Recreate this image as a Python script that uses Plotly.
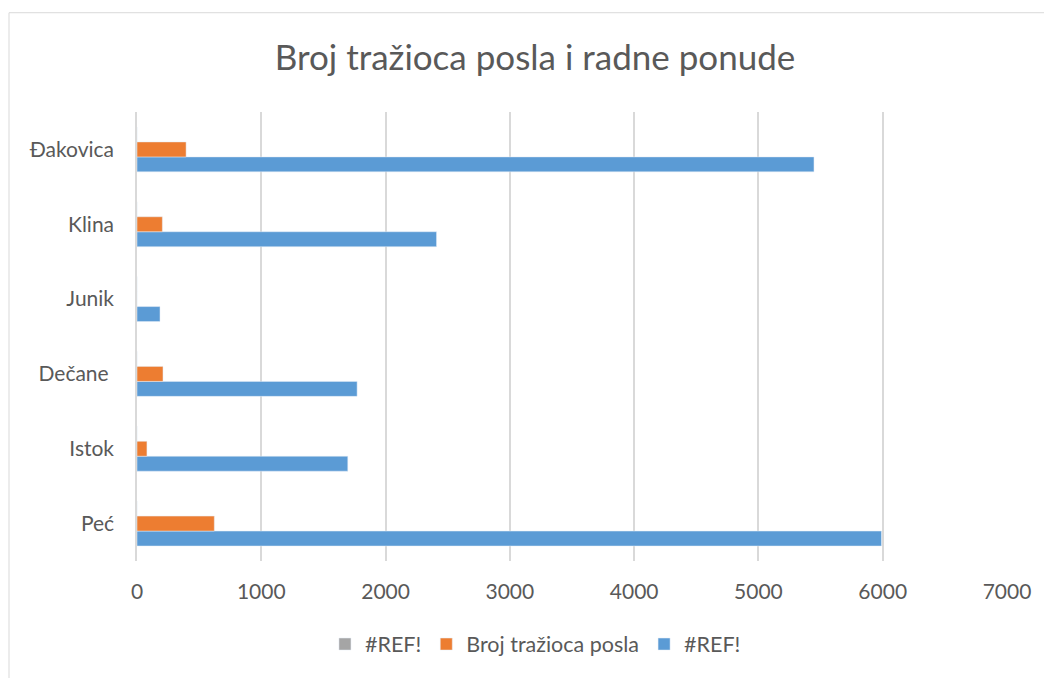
import plotly.graph_objects as go

gradovi = ["Peć", "Istok", "Dečane ", "Junik", "Klina", "Đakovica"]
ref_siva = [0, 0, 0, 0, 0, 0]
trazioci = [622, 80, 209, 0, 204, 395]
ref_plava = [5990, 1696, 1771, 185, 2410, 5447]

font = "Lato, 'Open Sans', sans-serif"
siva_tekst = "#595959"

fig = go.Figure()
# plotly stavlja prvi trace na dno grupe
fig.add_trace(go.Bar(y=gradovi, x=ref_plava, name="#REF!", orientation="h",
                     marker=dict(color="#5B9BD5")))
fig.add_trace(go.Bar(y=gradovi, x=trazioci, name="Broj tražioca posla", orientation="h",
                     marker=dict(color="#ED7D31")))
fig.add_trace(go.Bar(y=gradovi, x=ref_siva, name="#REF!", orientation="h",
                     marker=dict(color="#A5A5A5")))

# stranica ima 8px margine na body, pa je figura manja i pomaknuta
fig.update_layout(
    width=1044, height=670,
    margin=dict(l=129, r=45, t=103.5, b=116.5),
    paper_bgcolor="white", plot_bgcolor="white",
    barmode="group", bargap=0.4, bargroupgap=0,
    font=dict(family=font, color=siva_tekst, size=21),
    title=dict(text="Broj tražioca posla i radne ponude", x=(535 - 8) / 1044,
               xref="container", xanchor="center", y=1 - 50 / 670, yanchor="middle",
               font=dict(size=35, color=siva_tekst)),
    legend=dict(orientation="h", traceorder="reversed", x=0.458, xanchor="center",
                y=-0.185, yanchor="middle", font=dict(size=21.5, color=siva_tekst),
                itemwidth=30),
    xaxis=dict(range=[0, 7000], dtick=1000, showgrid=True, gridcolor="#D9D9D9",
               gridwidth=1.5, zeroline=False, showline=False, ticks="",
               ticklabelstandoff=16, tickfont=dict(size=21)),
    yaxis=dict(showgrid=False, showline=True, linecolor="#D9D9D9", linewidth=1.5,
               ticks="", ticklabelstandoff=17, tickfont=dict(size=21)),
    shapes=[dict(type="rect", xref="paper", yref="paper",
                 x0=(1 - 129) / 870, x1=(1060 - 129) / 870,
                 y0=-0.4, y1=1 + (103.5 - 4) / 450,
                 line=dict(color="#D9D9D9", width=1))],
)

fig.write_html("out.html")
